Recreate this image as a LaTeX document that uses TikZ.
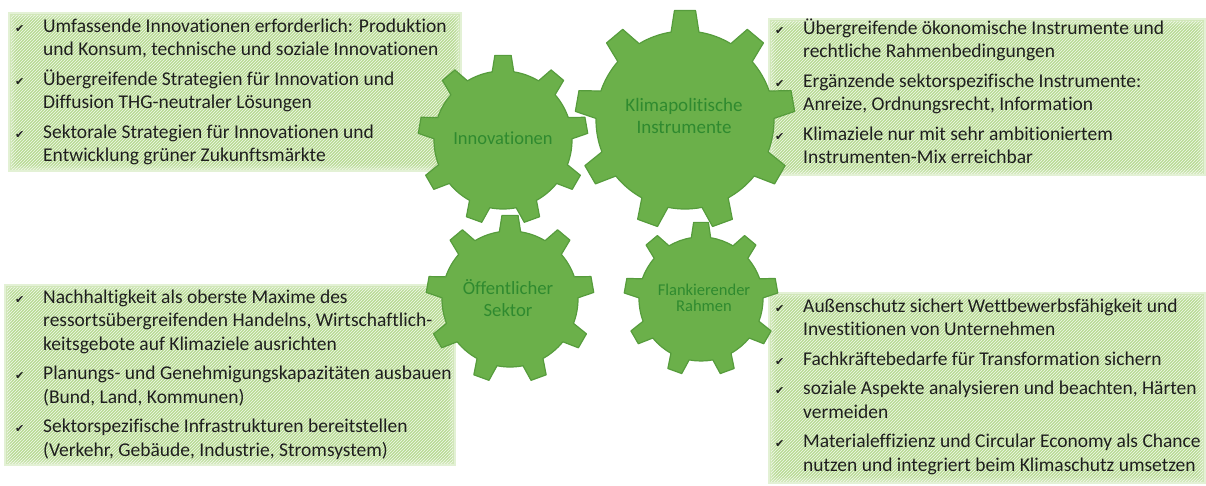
\documentclass[tikz,border=0pt]{standalone}
\usepackage{fontspec}
\setmainfont{Carlito}[Ligatures=NoCommon]
\newfontfamily\symfont{DejaVu Sans}
\usetikzlibrary{patterns}

\definecolor{gearfill}{HTML}{6BB04A}
\definecolor{gearline}{HTML}{569C3C}
\definecolor{gearlabel}{HTML}{2F8A2F}
\definecolor{panelgreen}{HTML}{AFD686}
\definecolor{itemtext}{HTML}{1E1E1E}

\newcommand{\chk}{\makebox[28pt][l]{\symfont\fontsize{11}{11}\selectfont ✔}}

\begin{document}
\begin{tikzpicture}[x=1pt, y=-1pt,
  gear/.style={fill=gearfill, draw=gearline, line width=1.2pt, line join=round},
  glabel/.style={text=gearlabel, align=center},
  panel/.style={fill=panelgreen, fill opacity=0.35},
  hatch/.style={pattern=north east lines, pattern color=white!85!panelgreen},
  items/.style={anchor=base west, inner sep=0pt, text=itemtext, font=\fontsize{19.5}{23.5}\selectfont}]
  \useasboundingbox (0,0) rectangle (1206,485);
  % Panels with soft edges
  \foreach \xa/\ya/\xb/\yb in {8/12/462/172, 768/18/1206/176, 4/284/456/466, 768/292/1206/484}{
    \foreach \d in {0,2,...,8}
      \fill[panel] (\xa+\d,\ya+\d) rectangle (\xb-\d,\yb-\d);
    \fill[hatch] (\xa+3,\ya+3) rectangle (\xb-3,\yb-3);
  }
  % Gears (9 teeth, one on top)
  \foreach \cx/\cy/\R/\r in {503/140/85/69, 685/120/110/89, 510/299/84/68, 701/299/77/62}{
    \begin{scope}[shift={(\cx,\cy)}]
      \filldraw[gear] (261:\r) \foreach \k in {0,...,8}{
        -- ({270+40*\k-9}:\r) -- ({270+40*\k-5.5}:\R) -- ({270+40*\k+5.5}:\R) -- ({270+40*\k+9}:\r)
        arc[start angle={270+40*\k+9}, end angle={270+40*\k+31}, radius=\r]} -- cycle;
    \end{scope}
  }
  \node[glabel, font=\fontsize{18.5}{22}\selectfont] (innov) at (503,138) {Innovationen};
  \node[glabel, font=\fontsize{19}{22}\selectfont] (klima) at (684,116) {Klimapolitische\\Instrumente};
  \node[glabel, font=\fontsize{18.7}{22}\selectfont] (oeff) at (508,298) {Öffentlicher\\Sektor};
  \node[glabel, font=\fontsize{16.5}{16}\selectfont] (flank) at (704,298) {Flankierender\\Rahmen};
  % Lists
  \node[items] (tl) at (15,32) {\begin{tabular}[t]{@{}l@{}l@{}}
    \chk & Umfassende Innovationen erforderlich: Produktion\\
         & und Konsum, technische und soziale Innovationen\\[6pt]
    \chk & Übergreifende Strategien für Innovation und\\
         & Diffusion THG-neutraler Lösungen\\[6pt]
    \chk & Sektorale Strategien für Innovationen und\\
         & Entwicklung grüner Zukunftsmärkte
  \end{tabular}};
  \node[items] (tr) at (775,34) {\begin{tabular}[t]{@{}l@{}l@{}}
    \chk & Übergreifende ökonomische Instrumente und\\
         & rechtliche Rahmenbedingungen\\[6pt]
    \chk & Ergänzende sektorspezifische Instrumente:\\
         & Anreize, Ordnungsrecht, Information\\[6pt]
    \chk & Klimaziele nur mit sehr ambitioniertem\\
         & Instrumenten-Mix erreichbar
  \end{tabular}};
  \node[items] (bl) at (15,303) {\begin{tabular}[t]{@{}l@{}l@{}}
    \chk & Nachhaltigkeit als oberste Maxime des\\
         & ressortsübergreifenden Handelns, Wirtschaftlich-\\
         & keitsgebote auf Klimaziele ausrichten\\[6pt]
    \chk & Planungs- und Genehmigungskapazitäten ausbauen\\
         & (Bund, Land, Kommunen)\\[6pt]
    \chk & Sektorspezifische Infrastrukturen bereitstellen\\
         & (Verkehr, Gebäude, Industrie, Stromsystem)
  \end{tabular}};
  \node[items] (br) at (775,312) {\begin{tabular}[t]{@{}l@{}l@{}}
    \chk & Außenschutz sichert Wettbewerbsfähigkeit und\\
         & Investitionen von Unternehmen\\[6pt]
    \chk & Fachkräftebedarfe für Transformation sichern\\[6pt]
    \chk & soziale Aspekte analysieren und beachten, Härten\\
         & vermeiden\\[6pt]
    \chk & Materialeffizienz und Circular Economy als Chance\\
         & nutzen und integriert beim Klimaschutz umsetzen
  \end{tabular}};
\end{tikzpicture}
\end{document}
